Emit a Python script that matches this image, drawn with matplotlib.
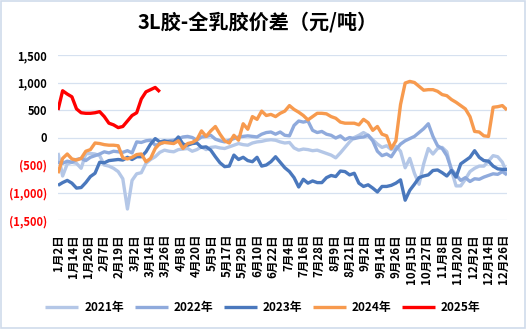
"""
3L胶-全乳胶价差 seasonal chart (2021-2025)
"""
import matplotlib.pyplot as plt
from matplotlib.patches import Rectangle
from matplotlib.ticker import FuncFormatter

plt.rcParams['font.family'] = ['Noto Sans CJK SC', 'DejaVu Sans']

# x tick labels (category axis, evenly spaced)
tick_labels = ["1月2日", "1月14日", "1月26日", "2月7日", "2月19日", "3月2日", "3月14日",
               "3月26日", "4月8日", "4月20日", "5月5日", "5月17日", "5月29日", "6月10日",
               "6月22日", "7月4日", "7月16日", "7月28日", "8月9日", "8月21日", "9月2日",
               "9月14日", "9月26日", "10月15日", "10月27日", "11月8日", "11月20日",
               "12月2日", "12月14日", "12月26日"]

y2021 = [-280, -700, -480, -450, -470, -560, -300, -290, -300, -330,
         -500, -520, -560, -620, -750, -1300, -780, -660, -640, -470,
         -400, -350, -270, -230, -250, -260, -220, -210, -200, -250,
         -220, -170, -220, -180, -170, -190, -200, -170, -140, -110,
         -130, -140, -100, -80, -70, -50, -40, -50, -80, -100,
         -90, -190, -230, -210, -220, -240, -230, -260, -290, -320,
         -370, -280, -180, -80, 0, 40, 90, 40, -40, -120,
         -180, -150, -220, -160, -250, -550, -380, -650, -850, -480,
         -200, -300, -200, -180, -260, -600, -880, -880, -760, -620,
         -560, -520, -520, -430, -330, -350, -450, -650]

y2022 = [-450, -470, -430, -450, -400, -380, -420, -360, -330, -300,
         -260, -280, -250, -260, -270, -240, -280, -80, -90, -60,
         -50, -140, -120, -80, -60, -50, -20, 10, 20, 0,
         -50, 10, 20, 40, -30, -60, -80, -50, -20, 10,
         20, 30, 20, 10, 60, 90, 100, 60, 100, 40,
         30, 220, 300, 280, 300, 130, 90, 110, 60, 40,
         -10, 30, -40, 0, -20, 0, 10, 40, -60, -250,
         -330, -300, -350, -220, -120, -60, -20, 20, 90, 160,
         250, 20, -150, -200, -330, -580, -680, -780, -730, -800,
         -750, -760, -720, -690, -660, -670, -620, -680]

y2023 = [-870, -820, -780, -830, -920, -910, -820, -710, -650, -450,
         -460, -420, -410, -400, -410, -360, -400, -350, -350, -260,
         -120, -20, -80, -60, -80, -90, 10, -120, -140, -110,
         -100, -180, -170, -230, -350, -460, -530, -520, -320, -400,
         -360, -420, -440, -360, -520, -500, -440, -350, -450, -550,
         -620, -730, -900, -760, -830, -790, -820, -820, -730, -690,
         -710, -610, -620, -680, -650, -830, -890, -860, -920, -990,
         -890, -890, -870, -830, -770, -1140, -960, -850, -730, -700,
         -680, -600, -590, -640, -700, -600, -720, -480, -420, -360,
         -240, -360, -420, -430, -520, -570, -580, -580]

y2024 = [-650, -380, -300, -390, -410, -380, -250, -220, -100, -110,
         -130, -140, -140, -150, -370, -390, -360, -310, -300, -440,
         -380, -200, -110, -90, -100, -110, -60, -200, -110, -90,
         -40, 120, 20, 120, 200, 60, -60, -100, 40, -50,
         250, 150, 380, 330, 480, 400, 420, 380, 440, 480,
         580, 510, 460, 400, 320, 380, 440, 440, 430, 380,
         350, 280, 260, 260, 260, 230, 330, 270, 130, 200,
         60, 30, -200, -60, 600, 990, 1020, 1000, 930, 860,
         870, 870, 840, 780, 760, 690, 640, 580, 520, 380,
         110, 100, 30, 20, 550, 560, 580, 500]

y2025 = [500, 850, 790, 740, 520, 450, 440, 440, 450, 470,
         380, 260, 230, 180, 200, 300, 400, 450, 700, 830,
         870, 910, 830]

series = [("2021年", y2021, "#B4C7E7"),
          ("2022年", y2022, "#8FAADC"),
          ("2023年", y2023, "#4A78BD"),
          ("2024年", y2024, "#F79A4E"),
          ("2025年", y2025, "#FF0000")]

fig = plt.figure(figsize=(5.26, 3.29), dpi=100)
ax = fig.add_axes([58 / 526, 1 - 220 / 329, 449 / 526, 165 / 329])

for name, vals, color in series:
    ax.plot(range(len(vals)), vals, color=color, linewidth=2.4, label=name,
            solid_joinstyle="round", solid_capstyle="butt")

ax.set_xlim(0, 97)
ax.set_ylim(-1500, 1500)
ax.set_yticks([-1500, -1000, -500, 0, 500, 1000, 1500])


def fmt(v, pos):
    if v < 0:
        return "({:,.0f})".format(-v)
    return "{:,.0f}".format(v)


ax.yaxis.set_major_formatter(FuncFormatter(fmt))
for lbl, v in zip(ax.get_yticklabels(), ax.get_yticks()):
    lbl.set_color("#FF0000" if v < 0 else "black")
    lbl.set_fontweight("bold")
    lbl.set_fontsize(8)

# labels spread evenly from the first point to the 12月26日 position
last_tick = 96.3
ax.set_xticks([k * last_tick / (len(tick_labels) - 1) for k in range(len(tick_labels))])
ax.set_xticklabels(tick_labels, rotation=90, fontsize=8.3, fontweight="bold",
                   va="top", ha="center")
ax.tick_params(axis="both", length=0)
ax.tick_params(axis="x", pad=10)
ax.tick_params(axis="y", pad=8)

ax.grid(axis="y", color="#D6E1F0", linewidth=0.9)
ax.set_axisbelow(True)
for s in ax.spines.values():
    s.set_visible(False)

fig.text(0.49, 1 - 22 / 329, "3L胶-全乳胶价差（元/吨）", ha="center", va="center",
         fontsize=14.5, fontweight="bold")

fig.legend(loc="center", bbox_to_anchor=(0.5, 1 - 308 / 329), ncol=5, frameon=False,
           prop={"size": 8.5, "weight": "bold"}, handlelength=2.8, columnspacing=0.9,
           handletextpad=0.5)

fig.patches.append(Rectangle((0.002, 0.003), 0.996, 0.994, transform=fig.transFigure,
                             fill=False, edgecolor="#D0DBEB", linewidth=1.2))

fig.savefig("out.png", dpi=100)
